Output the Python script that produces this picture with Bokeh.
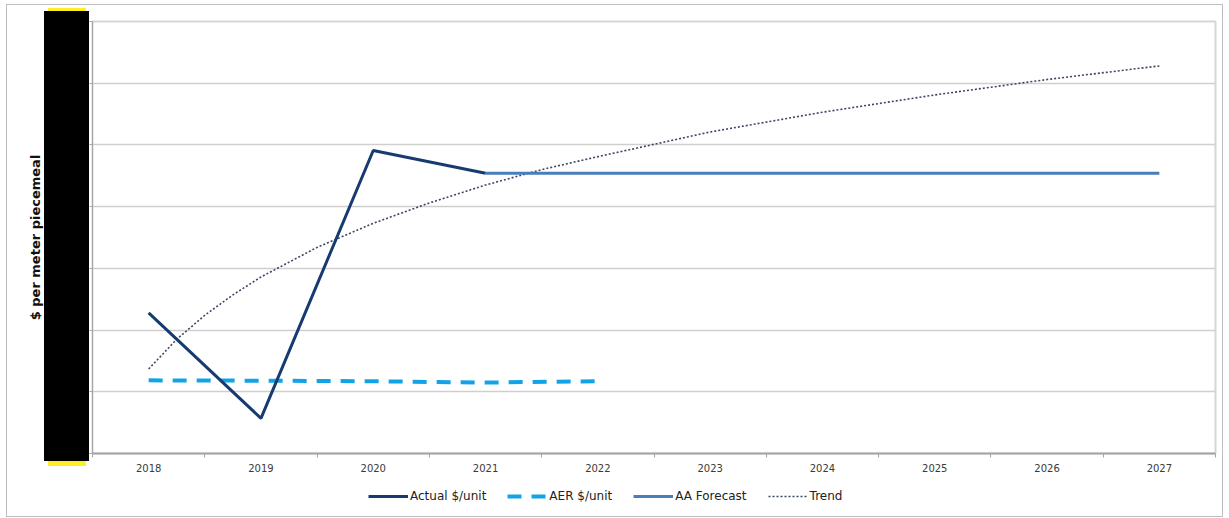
from bokeh.plotting import figure
from bokeh.layouts import column
from bokeh.models import Range1d, FixedTicker, Legend, LegendItem
from bokeh.embed import file_html
from bokeh.resources import INLINE

# ---- data -------------------------------------------------------------
years = ["2018", "2019", "2020", "2021", "2022", "2023", "2024", "2025", "2026", "2027"]

actual_years = [2018, 2019, 2020, 2021]
actual = [228, 57, 491, 454]

aer_years = [2018, 2019, 2020, 2021, 2022]
aer = [118.5, 118, 117, 115, 117]

forecast_years = [2021, 2022, 2023, 2024, 2025, 2026, 2027]
aa_forecast = [454, 454, 454, 454, 454, 454, 454]

# logarithmic trend, sampled more densely where it bends
trend_years = [2018, 2018.25, 2018.5, 2018.75, 2019, 2019.5, 2020, 2020.5, 2021,
               2021.5, 2022, 2023, 2024, 2025, 2026, 2027]
trend = [137, 185, 224, 257, 286, 334, 373, 406, 435,
         460, 481, 521, 553, 581, 606, 628]

y_ticks = [0, 100, 200, 300, 400, 500, 600, 700]

series_names = ["Actual $/unit", "AER $/unit", "AA Forecast", "Trend"]


def xpos(yrs):
    # a year sits in the middle of its category slot
    out = []
    for y in yrs:
        base = int(y)
        out.append(years.index(str(base)) + (y - base) + 0.5)
    return out


SERIES = {
    "Actual $/unit": (actual_years, actual),
    "AER $/unit": (aer_years, aer),
    "AA Forecast": (forecast_years, aa_forecast),
    "Trend": (trend_years, trend),
}

STYLE = {
    "Actual $/unit": dict(line_color="#173b70", line_width=3),
    "AER $/unit": dict(line_color="#12a3e6", line_width=4, line_dash="14 10"),
    "AA Forecast": dict(line_color="#4a7ebb", line_width=3),
    "Trend": dict(line_color="#3d4763", line_width=1.6, line_dash="2 2"),
}

W, H_MAIN, H_LEG = 1229, 480, 38

# ---- main chart -------------------------------------------------------
p = figure(width=W, height=H_MAIN, output_backend="svg", toolbar_location=None,
           x_range=Range1d(0, len(years)), y_range=Range1d(y_ticks[0], y_ticks[-1]),
           min_border_left=92, min_border_right=14, min_border_top=21, min_border_bottom=27)
p.background_fill_color = "white"
p.border_fill_alpha = 0
p.outline_line_color = "#d6d6d6"
p.outline_line_width = 2

xa = p.xaxis[0]
xa.ticker = FixedTicker(ticks=[i + 0.5 for i in range(len(years))],
                        minor_ticks=list(range(len(years) + 1)))
xa.major_label_overrides = {i + 0.5: y for i, y in enumerate(years)}
xa.major_tick_out = 0
xa.major_tick_in = 0
xa.minor_tick_out = 4
xa.minor_tick_in = 0
xa.minor_tick_line_color = "#a6a6a6"
xa.axis_line_color = "#a6a6a6"
xa.axis_line_width = 2
xa.major_label_text_font = "DejaVu Sans"
xa.major_label_text_font_size = "10px"
xa.major_label_text_color = "#3a3a3a"
xa.major_label_standoff = 6

ya = p.yaxis[0]
ya.ticker = FixedTicker(ticks=y_ticks)
ya.major_label_overrides = {v: "" for v in y_ticks}
ya.major_tick_out = 3
ya.major_tick_in = 0
ya.minor_tick_out = 0
ya.minor_tick_in = 0
ya.major_tick_line_color = "#a6a6a6"
ya.axis_line_color = "#a6a6a6"
ya.axis_label = "$ per meter piecemeal"
ya.axis_label_text_font = "DejaVu Sans"
ya.axis_label_text_font_style = "bold"
ya.axis_label_text_font_size = "13px"
ya.axis_label_text_color = "#111111"
ya.axis_label_standoff = 47

p.xgrid.visible = False
p.ygrid.ticker = FixedTicker(ticks=y_ticks)
p.ygrid.grid_line_color = "#cfcfcf"
p.ygrid.grid_line_width = 1.5

for name in ["Trend", "AER $/unit", "AA Forecast", "Actual $/unit"]:
    xs, ys = SERIES[name]
    p.line(xpos(xs), ys, **STYLE[name])

# ---- legend strip underneath ------------------------------------------
# the strip's own ranges sit below every value, so its lines only feed the key
leg = figure(width=W, height=H_LEG, output_backend="svg", toolbar_location=None,
             x_range=Range1d(0, len(years)), y_range=Range1d(-2, -1),
             x_axis_type=None, y_axis_type=None, min_border=0)
leg.outline_line_color = None
leg.background_fill_alpha = 0
leg.border_fill_alpha = 0
items = []
for name in series_names:
    xs, ys = SERIES[name]
    r = leg.line(xpos(xs), ys, **STYLE[name])
    items.append(LegendItem(label=name, renderers=[r]))
legend = Legend(items=items, orientation="horizontal", location=(276, 15))
legend.padding = 0
legend.margin = 0
legend.spacing = 21
legend.glyph_width = 40
legend.glyph_height = 14
legend.label_height = 14
legend.label_standoff = 2
legend.label_text_font = "DejaVu Sans"
legend.label_text_font_size = "12px"
legend.label_text_color = "#222222"
legend.border_line_color = None
legend.background_fill_alpha = 0
leg.add_layout(legend, "center")

# ---- page backdrop: thin outer frame plus a black panel with yellow caps
line = "linear-gradient(#bdbdbd, #bdbdbd)"
black = "linear-gradient(#000000, #000000)"
yellow = "linear-gradient(#ffee22, #ffee22)"
page = column(p, leg, spacing=0)
page.styles = {
    "background-color": "white",
    "background-repeat": "no-repeat",
    "background-image": ", ".join([black, yellow, yellow, line, line, line, line]),
    "background-size": "45px 450px, 38px 4px, 38px 6px, "
                       "1px 513px, 1217px 1px, 1px 513px, 1217px 1px",
    "background-position": "44px 11px, 48px 8px, 48px 460px, "
                           "6px 4px, 6px 4px, 1222px 4px, 6px 516px",
}

open("out.html", "w").write(file_html(page, INLINE))
